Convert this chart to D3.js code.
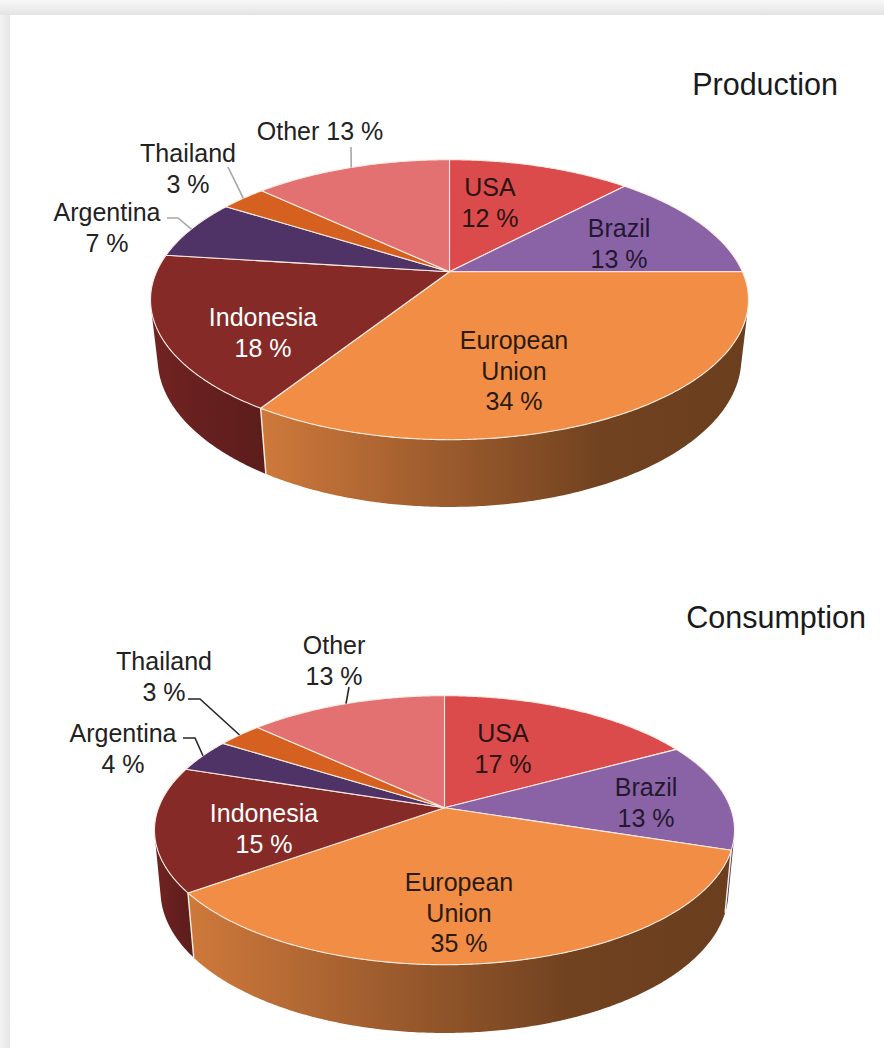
<!DOCTYPE html>
<html>
<head>
<meta charset="utf-8">
<script src="https://cdn.jsdelivr.net/npm/d3@7"></script>
<style>
  html, body { margin: 0; padding: 0; background: #ffffff; }
  svg { display: block; }
  text { font-family: "Liberation Sans", Arial, sans-serif; }
</style>
</head>
<body>
<svg id="chart" width="884" height="1048"></svg>
<script>
// ---- data ----
const categories = ["USA", "Brazil", "European Union", "Indonesia", "Argentina", "Thailand", "Other"];
const productionValues = [12, 13, 34, 18, 7, 3, 13];
const consumptionValues = [17, 13, 35, 15, 4, 3, 13];
const chartTitles = ["Production", "Consumption"];

// ---- styles ----
const sliceColors = ["#dc4b4b", "#8a63a6", "#f18d45", "#862a28", "#4f3366", "#d6601f", "#e37171"];
const insideTextColors = ["#2a1414", "#241830", "#2a1a10", "#ffffff", "#ffffff", "#ffffff", "#2a1414"];
// side-wall shading (fraction of the slice colour, left to right across the wall)
const defaultWallShade = [[0, 0.84], [1, 0.6]];
const wallShades = {
  1: [[0, 0.55], [1, 0.45]],
  2: [[0, 0.86], [0.35, 0.66], [0.7, 0.47], [1, 0.44]],
  3: [[0, 0.84], [0.6, 0.74], [1, 0.68]]
};

// 3D view of each pie: vertex position, tilt, camera distance, focal length, thickness
const views = [
  { cx: 449.5, cy: 271.7, tilt: Math.asin(0.4588), dist: 4.443, focal: 1301.5, thick: 0.228 },
  { cx: 444.5, cy: 807.7, tilt: Math.asin(0.4573), dist: 5.316, focal: 1520, thick: 0.242 }
];

// label placement per slice: centre x, centre y of first line, inline / wrapped name
const labelLayouts = [
  [
    { x: 490, y: 187 }, { x: 619, y: 228 }, { x: 514, y: 340, wrap: true },
    { x: 263, y: 317 }, { x: 107, y: 212, outside: true }, { x: 188, y: 153, outside: true },
    { x: 320, y: 131, outside: true, inline: true }
  ],
  [
    { x: 503, y: 733 }, { x: 646, y: 787 }, { x: 459, y: 882, wrap: true },
    { x: 264, y: 813 }, { x: 123, y: 733, outside: true }, { x: 164, y: 661, outside: true },
    { x: 334, y: 645, outside: true }
  ]
];
// leader line start points (label side) for outside labels
const leaderStarts = [
  { 4: [[167, 218], [178, 218]], 5: [[228, 167]], 6: [[351, 147]] },
  { 4: [[183, 738], [195, 738]], 5: [[188, 699], [200, 699]], 6: [[349, 687]] }
];
const leaderColors = ["#a6a6a6", "#262626"];
const titlePos = [{ x: 838, y: 95 }, { x: 866, y: 628 }];

const svg = d3.select("#chart");
const defs = svg.append("defs");

// page frame: grey shadow band along top and left
const gTop = defs.append("linearGradient").attr("id", "frameTop").attr("x1", 0).attr("y1", 0).attr("x2", 0).attr("y2", 1);
gTop.append("stop").attr("offset", 0).attr("stop-color", "#f8f8f8");
gTop.append("stop").attr("offset", 1).attr("stop-color", "#e3e3e3");
const gLeft = defs.append("linearGradient").attr("id", "frameLeft").attr("x1", 0).attr("y1", 0).attr("x2", 1).attr("y2", 0);
gLeft.append("stop").attr("offset", 0).attr("stop-color", "#f3f3f3");
gLeft.append("stop").attr("offset", 1).attr("stop-color", "#e6e6e6");
svg.append("rect").attr("x", 0).attr("y", 0).attr("width", 884).attr("height", 1048).attr("fill", "#ffffff");
svg.append("rect").attr("x", 0).attr("y", 0).attr("width", 884).attr("height", 15).attr("fill", "url(#frameTop)");
svg.append("rect").attr("x", 0).attr("y", 15).attr("width", 10).attr("height", 1033).attr("fill", "url(#frameLeft)");

function makeProjector(v) {
  const s = Math.sin(v.tilt), c = Math.cos(v.tilt);
  return (theta, r, h) => {
    const X = r * Math.sin(theta), Z = r * Math.cos(theta);
    const d = v.dist + Z * c - h * s;
    return [v.cx + v.focal * X / d, v.cy - v.focal * (h * c + Z * s) / d];
  };
}

function arcPoints(proj, a0, a1, h) {
  const n = Math.max(2, Math.ceil(Math.abs(a1 - a0) / (Math.PI / 360)));
  return d3.range(n + 1).map(i => proj(a0 + (a1 - a0) * i / n, 1, h));
}

const pie = d3.pie().sort(null).value(d => d.value).startAngle(0).endAngle(2 * Math.PI);
const line = d3.line();

function drawPie(values, idx) {
  const v = views[idx];
  const proj = makeProjector(v);
  const g = svg.append("g").attr("class", "pie-" + idx);
  const arcs = pie(values.map((value, i) => ({ value, name: categories[i], i })));

  // visible part of the cylinder wall (faces the camera)
  const c = Math.cos(v.tilt);
  const visLo = Math.acos(-1 / (v.dist * c));
  const visHi = 2 * Math.PI - visLo;

  // side walls
  arcs.forEach(a => {
    const a0 = Math.max(a.startAngle, visLo), a1 = Math.min(a.endAngle, visHi);
    if (a1 <= a0) return;
    const top = arcPoints(proj, a0, a1, 0);
    const bot = arcPoints(proj, a1, a0, -v.thick);
    const pts = top.concat(bot);
    const xs = pts.map(p => p[0]);
    const gid = `wall-${idx}-${a.data.i}`;
    const base = sliceColors[a.data.i];
    const toDark = d3.interpolateRgb("#000000", base);
    const grad = defs.append("linearGradient").attr("id", gid)
      .attr("gradientUnits", "userSpaceOnUse")
      .attr("x1", d3.min(xs)).attr("x2", d3.max(xs)).attr("y1", 0).attr("y2", 0);
    (wallShades[a.data.i] || defaultWallShade).forEach(([o, f]) =>
      grad.append("stop").attr("offset", o).attr("stop-color", toDark(f)));
    g.append("path").attr("d", line(pts) + "Z").attr("fill", `url(#${gid})`)
      .attr("stroke", "none");
  });

  // light edges where slices meet on the wall
  arcs.forEach(a => {
    const ang = a.startAngle;
    if (ang > visLo + 0.05 && ang < visHi - 0.05) {
      g.append("path").attr("d", line([proj(ang, 1, 0), proj(ang, 1, -v.thick)]))
        .attr("stroke", "#fbefe6").attr("stroke-width", 1.4).attr("fill", "none");
    }
  });

  // top faces
  arcs.forEach(a => {
    const pts = [proj(0, 0, 0)].concat(arcPoints(proj, a.startAngle, a.endAngle, 0));
    g.append("path").attr("d", line(pts) + "Z")
      .attr("fill", sliceColors[a.data.i])
      .attr("stroke", "#fbece2").attr("stroke-width", 1.1).attr("stroke-linejoin", "round");
  });

  // labels
  const layout = labelLayouts[idx];
  arcs.forEach(a => {
    const L = layout[a.data.i];
    const pct = `${a.data.value} %`;
    let lines;
    if (L.inline) lines = [`${a.data.name} ${pct}`];
    else if (L.wrap) lines = a.data.name.split(" ").concat([pct]);
    else lines = [a.data.name, pct];
    const fill = L.outside ? "#222222" : insideTextColors[a.data.i];
    const t = g.append("text").attr("text-anchor", "middle").attr("font-size", 25).attr("fill", fill);
    lines.forEach((s, k) => t.append("tspan").attr("x", L.x).attr("y", L.y + 9 + k * 30.5).text(s));

    // leader line to the rim at the middle of the slice
    const starts = leaderStarts[idx][a.data.i];
    if (starts) {
      const mid = (a.startAngle + a.endAngle) / 2;
      const pts = starts.concat([proj(mid, 1, 0)]);
      g.append("path").attr("d", line(pts)).attr("fill", "none")
        .attr("stroke", leaderColors[idx]).attr("stroke-width", 1.6);
    }
  });

  svg.append("text").attr("x", titlePos[idx].x).attr("y", titlePos[idx].y)
    .attr("text-anchor", "end").attr("font-size", 30.5).attr("fill", "#1a1a1a")
    .text(chartTitles[idx]);
}

drawPie(productionValues, 0);
drawPie(consumptionValues, 1);
</script>
</body>
</html>
